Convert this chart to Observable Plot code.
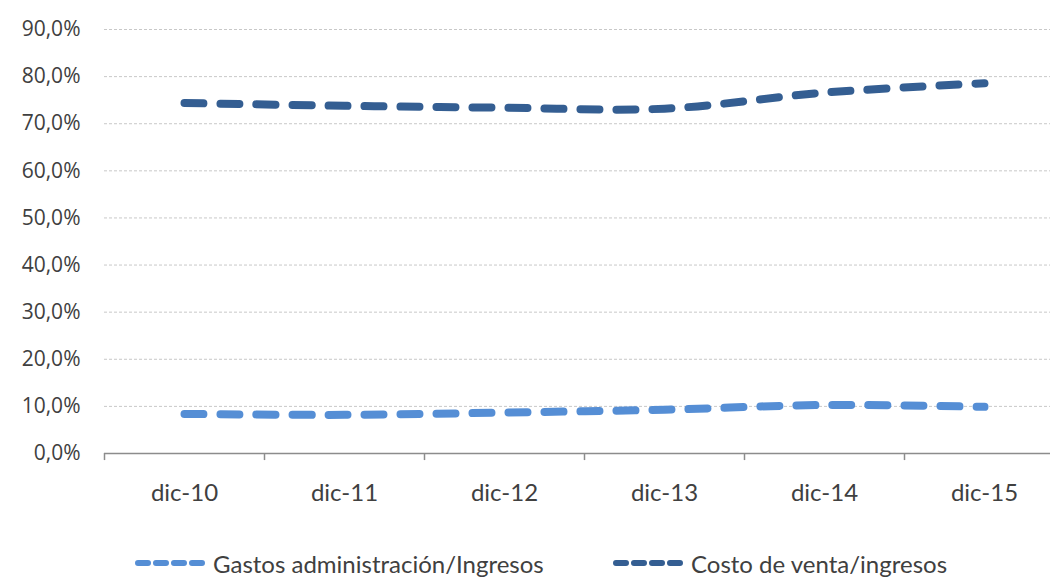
<!DOCTYPE html>
<html>
<head>
<meta charset="utf-8">
<script src="https://cdn.jsdelivr.net/npm/d3@7"></script>
<script src="https://cdn.jsdelivr.net/npm/@observablehq/plot@0.6"></script>
<style>
  html, body { margin: 0; padding: 0; background: #fff; overflow: hidden; }
  #wrap { width: 1050px; height: 577px; overflow: hidden; position: relative; }
  #chart svg { max-width: none !important; }
  #legend { position: absolute; top: 547px; left: 0; width: 1050px; height: 32px; font-family: Lato, sans-serif; font-size: 24px; color: #404040; }
  .item { position: absolute; top: 0; display: flex; align-items: center; height: 32px; }
  .item svg { margin-right: 6px; }
</style>
</head>
<body>
<div id="wrap">
  <div id="chart"></div>
  <div id="legend"></div>
</div>
<script>
const categories = ["dic-10", "dic-11", "dic-12", "dic-13", "dic-14", "dic-15"];
const gastos = [8.4, 8.2, 8.7, 9.3, 10.3, 9.9];
const costo = [74.4, 73.8, 73.4, 73.2, 76.6, 78.6];
const seriesNames = ["Gastos administración/Ingresos", "Costo de venta/ingresos"];
const seriesColors = ["#558ED5", "#345E92"];
const yTicks = [0, 10, 20, 30, 40, 50, 60, 70, 80, 90];

const rows = [];
categories.forEach((c, i) => {
  rows.push({cat: c, value: gastos[i], series: seriesNames[0]});
  rows.push({cat: c, value: costo[i], series: seriesNames[1]});
});

const fmt = d => d.toFixed(1).replace(".", ",") + "%";

const chart = Plot.plot({
  width: 1065,
  height: 520,
  marginLeft: 104,
  marginRight: 1,
  marginTop: 29,
  marginBottom: 67,
  style: {fontFamily: "'Open Sans', sans-serif", color: "#404040", background: "#fff", overflow: "visible", maxWidth: "none"},
  x: {type: "point", domain: categories, padding: 0.5, label: null},
  y: {domain: [0, 90], ticks: yTicks, label: null},
  color: {domain: seriesNames, range: seriesColors},
  marks: [
    Plot.ruleY(yTicks.filter(d => d > 0), {stroke: "#c8c8c8", strokeDasharray: "3,2", strokeWidth: 1}),
    Plot.axisY(yTicks, {tickSize: 0, tickPadding: 24, tickFormat: fmt, fontSize: 21, fill: "#404040", fontFamily: "'Open Sans', sans-serif", label: null}),
    Plot.axisX({tickSize: 0, tickPadding: 30, fontSize: 24, fill: "#404040", fontFamily: "Lato, sans-serif", label: null}),
    Plot.ruleY([0], {stroke: "#8c8c8c", strokeWidth: 1.5}),
    Plot.ruleX(categories, {x: d => d, y1: 0, y2: -1.5, dx: -80, stroke: "#8c8c8c", strokeWidth: 1.5}),
    Plot.lineY(rows, {x: "cat", y: "value", z: "series", stroke: "series", strokeWidth: 8, strokeLinecap: "round", strokeDasharray: "19,17", curve: "catmull-rom"})
  ]
});
document.getElementById("chart").appendChild(chart);

const legend = document.getElementById("legend");
const lx = [135, 613];
seriesNames.forEach((name, i) => {
  const item = document.createElement("div");
  item.className = "item";
  item.style.left = lx[i] + "px";
  item.innerHTML = `<svg width="72" height="30"><line x1="3" y1="15" x2="69" y2="15" stroke="${seriesColors[i]}" stroke-width="6" stroke-linecap="round" stroke-dasharray="10,8"/></svg><span>${name}</span>`;
  legend.appendChild(item);
});
</script>
</body>
</html>
